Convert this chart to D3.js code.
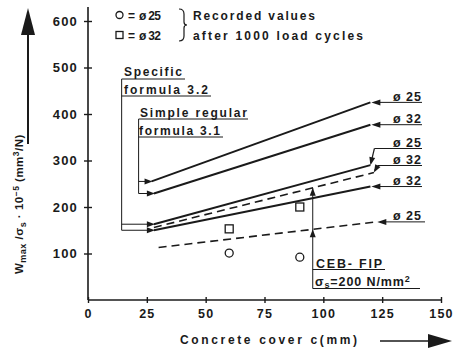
<!DOCTYPE html>
<html><head><meta charset="utf-8">
<script src="https://cdn.jsdelivr.net/npm/d3@7"></script>
<style>
html,body{margin:0;padding:0;background:#fff;}
svg text{font-family:"Liberation Sans",Arial,sans-serif;font-weight:bold;fill:#1a1a1a;}
</style></head>
<body><svg id="c" width="454" height="352"></svg>
<script>
// ---- data ----
const xTicks = [0, 25, 50, 75, 100, 125, 150];
const yTicks = [100, 200, 300, 400, 500, 600];
const seriesNames = ["Simple ø25", "Simple ø32", "Specific ø25", "Specific ø32", "CEB-FIP ø32", "CEB-FIP ø25"];
const seriesLabels = ["ø 25", "ø 32", "ø 25", "ø 32", "ø 32", "ø 25"];
const coverStart = [27, 28, 28, 28, 28, 30];
const coverEnd = [120, 120, 120, 120, 121.5, 122.5];
const valueStart = [255, 229, 163, 150, 156, 113];
const valueEnd = [425, 377, 290, 244, 274, 168];
const seriesDashed = [false, false, false, false, true, true];
const recordedCover = [60, 90];
const recordedPhi25 = [101, 92];
const recordedPhi32 = [153, 200];
const cebCover = 95.5;

// ---- layout ----
const ink = "#1a1a1a";
const svg = d3.select("#c");
const x = d3.scaleLinear().domain([0, 150]).range([88, 441]);
const y = d3.scaleLinear().domain([0, 600]).range([300, 21]);

function arrowHead(px, py, dx, dy, len = 8, half = 2.8) {
  const n = Math.hypot(dx, dy); dx /= n; dy /= n;
  const bx = px - dx * len, by = py - dy * len;
  svg.append("path")
    .attr("d", `M${px},${py}L${bx - dy * half},${by + dx * half}L${bx + dy * half},${by - dx * half}Z`)
    .attr("fill", ink);
}
function line(x1, y1, x2, y2, w = 1) {
  svg.append("line").attr("x1", x1).attr("y1", y1).attr("x2", x2).attr("y2", y2)
    .attr("stroke", ink).attr("stroke-width", w);
}

// axes
const yAxis = d3.axisLeft(y).tickValues(yTicks).tickSize(4).tickPadding(6);
const gy = svg.append("g").attr("transform", `translate(${x(0)},0)`).call(yAxis);
gy.select(".domain").remove();
gy.selectAll(".tick line").attr("x1", -4).attr("x2", 4).attr("stroke", ink).attr("stroke-width", 1.4);
gy.selectAll(".tick text").style("font-size", "13px").style("letter-spacing", "1.2px").attr("fill", ink);

const xAxis = d3.axisBottom(x).tickValues(xTicks).tickSize(3).tickPadding(6);
const gx = svg.append("g").attr("transform", `translate(0,${y(0)})`).call(xAxis);
gx.select(".domain").remove();
gx.selectAll(".tick line").attr("y1", -3).attr("y2", 3).attr("stroke", ink).attr("stroke-width", 1.4);
gx.selectAll(".tick text").style("font-size", "12.5px").style("letter-spacing", "1.2px").attr("fill", ink);

line(x(0), 7, x(0), y(0), 1.6);
line(x(0), y(0), x(150), y(0), 1.6);

// axis titles
svg.append("text").attr("x", 180).attr("y", 344).attr("textLength", 177)
  .attr("lengthAdjust", "spacing").style("font-size", "12px").text("Concrete cover c(mm)");
line(380, 341, 430, 341, 1.6);
arrowHead(452, 341, 1, 0, 24, 7);

const yl = svg.append("text").attr("transform", "translate(23,274) rotate(-90)")
  .style("font-size", "11.5px").style("letter-spacing", "0.5px");
yl.append("tspan").text("W");
yl.append("tspan").attr("dy", 3).style("font-size", "9px").text("max");
yl.append("tspan").attr("dy", -3).text(" /σ");
yl.append("tspan").attr("dy", 3).style("font-size", "9px").text("s");
yl.append("tspan").attr("dy", -3).text(" · 10");
yl.append("tspan").attr("dy", -4).style("font-size", "8.5px").text("−5");
yl.append("tspan").attr("dy", 4).text(" (mm");
yl.append("tspan").attr("dy", -4).style("font-size", "8.5px").text("3");
yl.append("tspan").attr("dy", 4).text("/N)");
line(28, 144, 28, 30, 2);
arrowHead(28, 8, 0, -1, 27, 7);

// legend
svg.append("circle").attr("cx", 119.5).attr("cy", 15).attr("r", 3.5).attr("fill", "none").attr("stroke", ink).attr("stroke-width", 1.3);
svg.append("rect").attr("x", 116).attr("y", 31.5).attr("width", 7).attr("height", 7).attr("fill", "none").attr("stroke", ink).attr("stroke-width", 1.3);
[[19.5, "ø 25"], [39.5, "ø 32"]].forEach(([ty, t]) => {
  svg.append("text").attr("x", 128).attr("y", ty).style("font-size", "12px").text("=");
  svg.append("text").attr("x", 139).attr("y", ty).attr("textLength", 22).attr("lengthAdjust", "spacing").style("font-size", "12px").text(t);
});
svg.append("path").attr("d", "M179,9 Q184,9 184,14 L184,22 Q184,25 187,25 Q184,25 184,28 L184,36 Q184,41 179,41")
  .attr("fill", "none").attr("stroke", ink).attr("stroke-width", 1.2);
svg.append("text").attr("x", 193).attr("y", 19.5).attr("textLength", 122).attr("lengthAdjust", "spacing").style("font-size", "12px").text("Recorded values");
svg.append("text").attr("x", 193).attr("y", 39.5).attr("textLength", 170).attr("lengthAdjust", "spacing").style("font-size", "12px").text("after 1000 load cycles");

// series lines
seriesNames.forEach((n, i) => {
  svg.append("line")
    .attr("x1", x(coverStart[i])).attr("y1", y(valueStart[i]))
    .attr("x2", x(coverEnd[i])).attr("y2", y(valueEnd[i]))
    .attr("stroke", ink).attr("stroke-width", seriesDashed[i] ? 1.6 : 2)
    .attr("stroke-dasharray", seriesDashed[i] ? "8,5" : null);
});

// bracket annotations (left)
const leftX = [x(21.5), x(21.5), x(14.3), x(14.3)];
[0, 1, 2, 3].forEach(i => {
  const sx = x(coverStart[i]), sy = y(valueStart[i]);
  line(leftX[i], sy, sx - 6, sy, 1);
  arrowHead(sx + 1, sy, 1, 0, 8, 3);
});
line(x(21.5), 119, x(21.5), y(valueStart[1]), 1);
line(x(14.3), 79, x(14.3), y(valueStart[3]), 1);
function ulText(tx, ty, txt, tl, ux1, ux2, uy) {
  svg.append("text").attr("x", tx).attr("y", ty).attr("textLength", tl).attr("lengthAdjust", "spacing")
    .style("font-size", "12px").text(txt);
  line(ux1, uy, ux2, uy, 1);
}
ulText(124, 76, "Specific", 58, x(14.3), 185, 79);
ulText(124, 93.5, "formula 3.2", 84, x(14.3), 211, 96);
ulText(140, 116.5, "Simple regular", 107, x(21.5), 248, 119);
ulText(139, 134.5, "formula 3.1", 81, x(21.5), 223, 137);

// right labels
const labelMode = ["h", "h", "bent", "h", "bent", "h"];
const bentY = [0, 0, 148.5, 0, 165.5, 0];
const labelEndX = [422, 422, 422, 422, 422, 425];
function rightLabel(ly, txt) {
  svg.append("text").attr("x", 393).attr("y", ly - 1.5).attr("textLength", 28).attr("lengthAdjust", "spacing")
    .style("font-size", "12.5px").text(txt);
}
seriesNames.forEach((n, i) => {
  const ex = x(coverEnd[i]), ey = y(valueEnd[i]);
  if (labelMode[i] === "h") {
    line(ex + 4, ey, labelEndX[i], ey, 1);
    arrowHead(ex + 1, ey, -1, 0, 9, 3);
    rightLabel(ey, seriesLabels[i]);
  } else {
    const lx = ex + 4, ly = bentY[i];
    line(lx, ly, labelEndX[i], ly, 1);
    line(lx, ly, ex + 0.5, ey - 2, 1.2);
    arrowHead(ex, ey, ex - lx, ey - ly, 8, 3);
    rightLabel(ly, seriesLabels[i]);
  }
});

// CEB-FIP annotation
function interp(i, c) {
  return valueStart[i] + (valueEnd[i] - valueStart[i]) * (c - coverStart[i]) / (coverEnd[i] - coverStart[i]);
}
const cx = x(cebCover);
const yTop = y(interp(4, cebCover)), yLow = y(interp(5, cebCover));
line(cx, yTop, cx, 288.5, 1);
arrowHead(cx, yTop, 0, -1, 8, 3);
arrowHead(cx, yLow, 0, -1, 8, 3);
svg.append("text").attr("x", 316).attr("y", 267.5).attr("textLength", 66).attr("lengthAdjust", "spacing").style("font-size", "12.5px").text("CEB- FIP");
line(cx, 269.5, 385, 269.5, 1);
const st = svg.append("text").attr("x", 315).attr("y", 286).style("font-size", "12.5px").style("letter-spacing", "0.9px");
st.append("tspan").text("σ");
st.append("tspan").attr("dy", 2).style("font-size", "9px").text("s");
st.append("tspan").attr("dy", -2).text("=200 N/mm");
st.append("tspan").attr("dy", -4).style("font-size", "9px").text("2");
line(cx, 288.5, 420, 288.5, 1);

// recorded values
svg.selectAll("circle.rec").data(recordedCover).join("circle").attr("class", "rec")
  .attr("cx", d => x(d)).attr("cy", (d, i) => y(recordedPhi25[i])).attr("r", 4)
  .attr("fill", "none").attr("stroke", ink).attr("stroke-width", 1.3);
svg.selectAll("rect.rec").data(recordedCover).join("rect").attr("class", "rec")
  .attr("x", d => x(d) - 4).attr("y", (d, i) => y(recordedPhi32[i]) - 4).attr("width", 8).attr("height", 8)
  .attr("fill", "none").attr("stroke", ink).attr("stroke-width", 1.3);
</script></body></html>
